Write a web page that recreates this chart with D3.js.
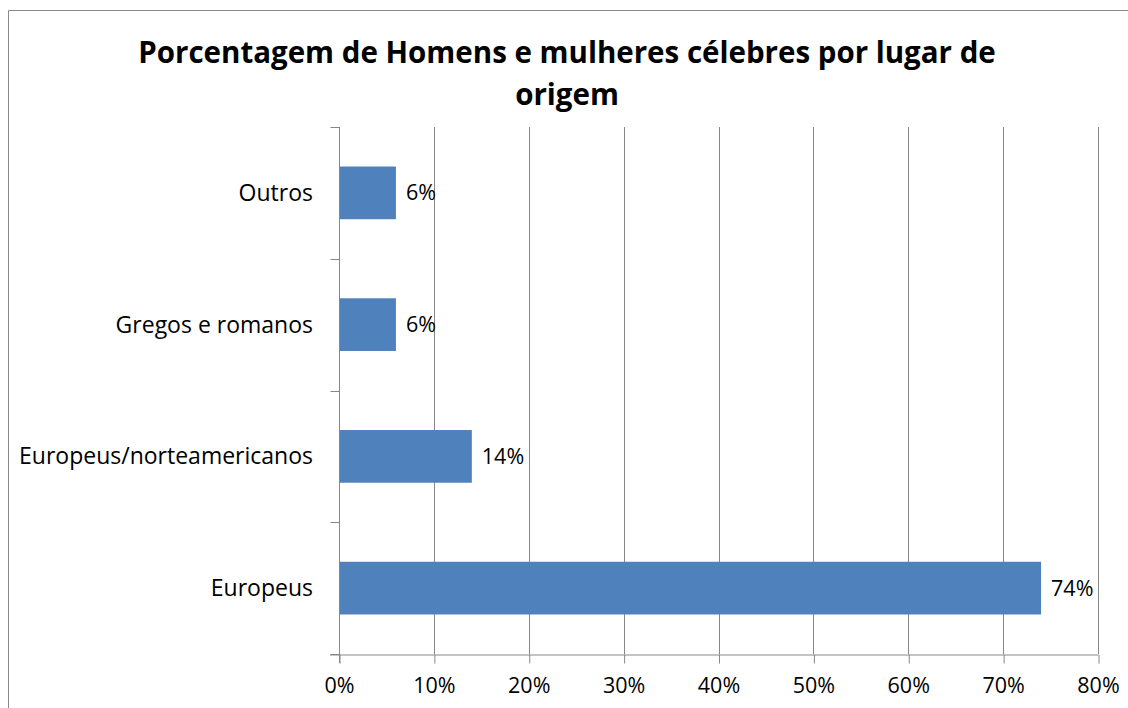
<!DOCTYPE html>
<html><head><meta charset="utf-8">
<script src="https://cdn.jsdelivr.net/npm/d3@7"></script>
<style>body{margin:0;background:#fff}svg{display:block}</style>
</head><body>
<svg id="c" width="1128" height="708"></svg>
<script>
const categories = ["Outros", "Gregos e romanos", "Europeus/norteamericanos", "Europeus"];
const values = [6, 6, 14, 74];
const xTicks = [0, 10, 20, 30, 40, 50, 60, 70, 80];
const titleLines = ["Porcentagem de Homens e mulheres célebres por lugar de", "origem"];

const svg = d3.select("#c");
const font = "'Open Sans', 'Liberation Sans', sans-serif";
// outer chart border
svg.append("path").attr("d", "M8.5,708 L8.5,10.5 L1128,10.5").attr("fill","none").attr("stroke","#898989").attr("stroke-width",1);

const L = 339, R = 1098, T = 127, B = 654;
const x = d3.scaleLinear().domain([0, 80]).range([L, R]);
const y = d3.scaleBand().domain(categories).range([T, B]).paddingInner(0.6).paddingOuter(0.3);

// gridlines
svg.append("g").selectAll("line").data(xTicks.slice(1)).join("line")
  .attr("x1", d => Math.round(x(d)) + 0.5).attr("x2", d => Math.round(x(d)) + 0.5)
  .attr("y1", T).attr("y2", B).attr("stroke", "#878787");

// bars
svg.append("g").selectAll("rect").data(values).join("rect")
  .attr("x", x(0)).attr("y", (d, i) => y(categories[i]))
  .attr("width", d => x(d) - x(0)).attr("height", y.bandwidth())
  .attr("fill", "#4f81bd");

// x axis
const xa = svg.append("g").attr("transform", `translate(0,${B + 0.5})`)
  .call(d3.axisBottom(x).tickValues(xTicks).tickFormat(d => d + "%").tickSize(9).tickSizeOuter(0).tickPadding(14));
xa.select(".domain").attr("d", `M${L - 9},0.5H${R}`);
// y axis (category boundaries)
const ya = svg.append("g").attr("transform", `translate(${L + 0.5},0)`);
ya.append("line").attr("x1",0).attr("x2",0).attr("y1",T).attr("y2",B+9).attr("stroke","#878787");
const step = (B - T) / categories.length;
d3.range(categories.length + 1).forEach(i => {
  ya.append("line").attr("x1", -9).attr("x2", 0).attr("y1", Math.round(T + i * step) + 0.5).attr("y2", Math.round(T + i * step) + 0.5).attr("stroke", "#878787");
});
svg.selectAll(".tick line, .domain").attr("stroke", "#878787");
xa.selectAll(".tick line").attr("transform", "translate(0.5,0)");
xa.selectAll("text").attr("font-family", font).attr("font-size", 21.5).attr("fill", "#000");

// category labels
svg.append("g").selectAll("text").data(categories).join("text")
  .attr("x", 313).attr("y", d => y(d) + y.bandwidth() / 2).attr("dy", "0.35em")
  .attr("text-anchor", "end").attr("font-family", font).attr("font-size", 23).text(d => d);

// value labels
svg.append("g").selectAll("text").data(values).join("text")
  .attr("x", d => x(d) + 10).attr("y", (d, i) => y(categories[i]) + y.bandwidth() / 2).attr("dy", "0.35em")
  .attr("font-family", font).attr("font-size", 21.5).text(d => d + "%");

// title
svg.append("g").selectAll("text").data(titleLines).join("text")
  .attr("x", 567).attr("y", (d, i) => 63 + i * 42).attr("text-anchor", "middle")
  .attr("font-family", font).attr("font-weight", "bold").attr("font-size", 29.5).text(d => d);
</script>
</body></html>
